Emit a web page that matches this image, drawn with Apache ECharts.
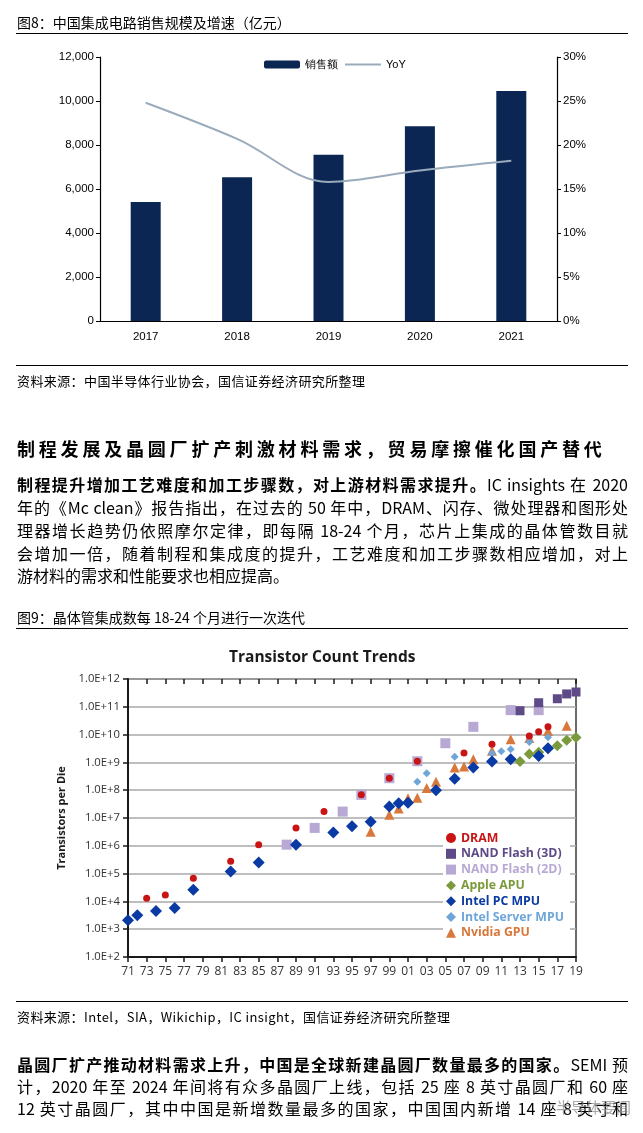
<!DOCTYPE html>
<html><head><meta charset="utf-8">
<script src="https://cdn.jsdelivr.net/npm/echarts@6/dist/echarts.min.js"></script>
<style>
html,body{margin:0;padding:0;background:#fff;}
body{width:643px;height:1133px;position:relative;overflow:hidden;font-family:"Noto Sans CJK SC",sans-serif;color:#000;}
#chart{position:absolute;left:0;top:0;width:643px;height:1133px;}
.t{position:absolute;white-space:nowrap;z-index:2;}
.rule{position:absolute;left:16px;width:612px;height:0;border-top:1.6px solid #000;z-index:2;}
.cap{font-size:14px;left:17px;line-height:18px;}
.src{font-size:13px;left:17px;line-height:17px;letter-spacing:0.4px;}
.h{font-size:18px;font-weight:bold;left:17px;letter-spacing:3.8px;line-height:24px;}
.p{position:absolute;left:17px;width:611px;font-size:16px;text-align:justify;text-align-last:justify;white-space:normal;height:23px;line-height:23px;z-index:2;overflow:visible;}
.p.last{text-align-last:left;}
.wm{position:absolute;left:556px;top:1098px;font-size:15px;color:rgba(140,140,140,0.75);z-index:3;line-height:18px;}
</style></head>
<body>
<div id="chart"></div>

<div class="t cap" style="top:13px;">图8：中国集成电路销售规模及增速（亿元）</div>
<div class="rule" style="top:33px;"></div>
<div class="rule" style="top:365px;"></div>
<div class="t src" style="top:372px;">资料来源：中国半导体行业协会，国信证券经济研究所整理</div>

<div class="t h" style="top:436px;">制程发展及晶圆厂扩产刺激材料需求，贸易摩擦催化国产替代</div>
<div class="p" style="top:473px;"><b>制程提升增加工艺难度和加工步骤数，对上游材料需求提升。</b>IC insights 在 2020</div>
<div class="p" style="top:496px;">年的《Mc clean》报告指出，在过去的 50 年中，DRAM、闪存、微处理器和图形处</div>
<div class="p" style="top:519px;">理器增长趋势仍依照摩尔定律，即每隔 18-24 个月，芯片上集成的晶体管数目就</div>
<div class="p" style="top:542px;">会增加一倍，随着制程和集成度的提升，工艺难度和加工步骤数相应增加，对上</div>
<div class="p last" style="top:564px;">游材料的需求和性能要求也相应提高。</div>

<div class="t cap" style="top:608px;">图9：晶体管集成数每 18-24 个月进行一次迭代</div>
<div class="rule" style="top:628px;"></div>

<div class="rule" style="top:1001px;"></div>
<div class="t src" style="top:1008px;">资料来源：Intel，SIA，Wikichip，IC insight，国信证券经济研究所整理</div>

<div class="p" style="top:1053px;"><b>晶圆厂扩产推动材料需求上升，中国是全球新建晶圆厂数量最多的国家。</b>SEMI 预</div>
<div class="p" style="top:1075px;">计，2020 年至 2024 年间将有众多晶圆厂上线，包括 25 座 8 英寸晶圆厂和 60 座</div>
<div class="p" style="top:1097px;">12 英寸晶圆厂，其中中国是新增数量最多的国家，中国国内新增 14 座 8 英寸和</div>
<div class="wm">半导体要闻</div>

<script>
// ---- Chart 1: China IC sales ----
const years = ['2017', '2018', '2019', '2020', '2021'];
const sales = [5411, 6532, 7562, 8848, 10458];
const yoy = [24.8, 20.7, 15.8, 17.1, 18.2];

// ---- Chart 2: Transistor count trends (year, transistors per die) ----
const dramYears = [1973, 1975, 1978, 1982, 1985, 1989, 1992, 1996, 1999, 2002, 2007, 2010, 2014, 2015, 2016];
const dramCount = [1.3e4, 1.7e4, 6.8e4, 2.8e5, 1.1e6, 4.4e6, 1.7e7, 6.8e7, 2.7e8, 1.1e9, 2.2e9, 4.5e9, 8.9e9, 1.26e10, 1.9e10];
const nand3dYears = [2013, 2015, 2017, 2018, 2019];
const nand3dCount = [7.2e10, 1.4e11, 1.95e11, 2.9e11, 3.4e11];
const nand2dYears = [1988, 1991, 1994, 1996, 1999, 2002, 2005, 2008, 2012, 2015];
const nand2dCount = [1.1e6, 4.4e6, 1.7e7, 6.8e7, 2.7e8, 1.1e9, 4.9e9, 1.9e10, 7.6e10, 7.6e10];
const appleYears = [2013, 2014, 2015, 2016, 2017, 2018, 2019];
const appleCount = [1.07e9, 2.0e9, 2.3e9, 3.2e9, 4.0e9, 6.3e9, 7.8e9];
const intelPcYears = [1971, 1972, 1974, 1976, 1978, 1982, 1985, 1989, 1993, 1995, 1997, 1999, 2000, 2001, 2004, 2006, 2008, 2010, 2012, 2015, 2016];
const intelPcCount = [2.1e3, 3.2e3, 4.5e3, 5.8e3, 2.6e4, 1.2e5, 2.5e5, 1.1e6, 3.0e6, 5.1e6, 7.4e6, 2.6e7, 3.4e7, 3.5e7, 1.0e8, 2.6e8, 6.5e8, 1.07e9, 1.3e9, 1.7e9, 3.2e9];
const serverYears = [2000, 2002, 2003, 2006, 2010, 2011, 2012, 2014, 2016];
const serverCount = [3.4e7, 2.0e8, 4.1e8, 1.6e9, 2.1e9, 2.5e9, 3.0e9, 5.4e9, 8.0e9];
const nvidiaYears = [1997, 1999, 2000, 2001, 2002, 2003, 2004, 2006, 2007, 2008, 2010, 2012, 2014, 2016, 2018];
const nvidiaCount = [3.2e6, 1.3e7, 2.2e7, 5.1e7, 5.4e7, 1.2e8, 2.0e8, 6.6e8, 7.1e8, 1.3e9, 2.6e9, 6.8e9, 7.6e9, 1.35e10, 2.1e10];
const firstYear = 1971, lastYear = 2019;

const C = {
  dram: '#c81414', nand3d: '#5e4a86', nand2d: '#b7a9d3', apple: '#7a9a3c',
  pc: '#0a3aa3', server: '#6ea6da', nvidia: '#d9783c'
};

function pts(ys, cs) { return ys.map((y, i) => [y - firstYear, cs[i]]); }

const chart = echarts.init(document.getElementById('chart'), null, {renderer: 'canvas'});
const f1 = '"Liberation Sans", Arial, sans-serif';
const f2 = '"Open Sans", sans-serif';

chart.setOption({
  animation: false,
  title: [{
    text: 'Transistor Count Trends', left: 224, top: 645,
    textStyle: {fontFamily: f2, fontWeight: 'bold', fontSize: 15.5, color: '#1a1a1a'}
  }],
  grid: [
    {left: 100, right: 86, top: 57, bottom: 812},
    {left: 128, right: 67, top: 679, bottom: 176, show: true, borderColor: '#3a3a3a', borderWidth: 1.5}
  ],
  legend: [
    {
      left: 259, top: 54, itemWidth: 36, itemHeight: 8, itemGap: 6,
      selectedMode: false,
      data: ['销售额', {name: 'YoY', itemStyle: {opacity: 0}}],
      textStyle: {fontSize: 11, color: '#000', fontFamily: f1}
    },
    {
      orient: 'vertical', left: 443, top: 830, itemWidth: 10, itemHeight: 10, itemGap: 3.8,
      backgroundColor: '#fff', padding: [2, 6, 4, 3], selectedMode: false,
      textStyle: {fontFamily: f2, fontWeight: 'bold', fontSize: 12.3},
      data: [
        {name: 'DRAM', icon: 'circle', textStyle: {color: C.dram}},
        {name: 'NAND Flash (3D)', icon: 'rect', textStyle: {color: C.nand3d}},
        {name: 'NAND Flash (2D)', icon: 'rect', textStyle: {color: C.nand2d}},
        {name: 'Apple APU', icon: 'diamond', textStyle: {color: C.apple}},
        {name: 'Intel PC MPU', icon: 'diamond', textStyle: {color: C.pc}},
        {name: 'Intel Server MPU', icon: 'diamond', textStyle: {color: C.server}},
        {name: 'Nvidia GPU', icon: 'triangle', textStyle: {color: C.nvidia}}
      ]
    }
  ],
  xAxis: [
    {
      type: 'category', gridIndex: 0, data: years,
      axisLine: {lineStyle: {color: '#000', width: 1.2}},
      axisTick: {length: 5, lineStyle: {color: '#000'}},
      axisLabel: {color: '#000', fontSize: 11.5, fontFamily: f1, margin: 10}
    },
    {
      type: 'value', gridIndex: 1, min: 0, max: lastYear - firstYear, interval: 2,
      splitLine: {show: false},
      axisLine: {lineStyle: {color: '#1a1a1a', width: 2}},
      axisTick: {show: true, length: 5, lineStyle: {color: '#1a1a1a', width: 1.5}},
      axisLabel: {color: '#333', fontSize: 12, fontFamily: f2, margin: 9,
        formatter: v => String((firstYear + v) % 100).padStart(2, '0')}
    },
    {
      type: 'value', gridIndex: 1, min: 0, max: lastYear - firstYear, interval: 2,
      splitLine: {show: false}, axisLine: {show: false}, axisLabel: {show: false},
      axisTick: {show: true, inside: true, length: 5, lineStyle: {color: '#1a1a1a', width: 1.5}}
    }
  ],
  yAxis: [
    {
      type: 'value', gridIndex: 0, min: 0, max: 12000, interval: 2000,
      splitLine: {show: false},
      axisLine: {show: true, lineStyle: {color: '#000', width: 1.2}},
      axisTick: {show: true, length: 4, lineStyle: {color: '#000'}},
      axisLabel: {color: '#000', fontSize: 11.5, fontFamily: f1, margin: 6,
        formatter: v => v.toLocaleString('en-US')}
    },
    {
      type: 'value', gridIndex: 0, position: 'right', min: 0, max: 30, interval: 5,
      splitLine: {show: false},
      axisLine: {show: true, lineStyle: {color: '#000', width: 1.2}},
      axisTick: {show: true, length: 4, lineStyle: {color: '#000'}},
      axisLabel: {color: '#000', fontSize: 11.5, fontFamily: f1, margin: 6, formatter: v => v + '%'}
    },
    {
      type: 'log', logBase: 10, gridIndex: 1, min: 1e2, max: 1e12, splitNumber: 10,
      name: 'Transistors per Die', nameLocation: 'middle', nameRotate: 90, nameGap: 36,
      nameTextStyle: {fontFamily: f2, fontWeight: 'bold', fontSize: 11, color: '#1a1a1a'},
      axisLine: {show: true, lineStyle: {color: '#1a1a1a', width: 2}},
      axisTick: {show: true, length: 5, lineStyle: {color: '#1a1a1a', width: 1.5}},
      splitLine: {show: true, lineStyle: {color: '#a8a8a8', width: 1.5}},
      axisLabel: {color: '#333', fontSize: 11.3, fontFamily: f2, margin: 8,
        formatter: v => '1.0E+' + Math.round(Math.log10(v))}
    }
  ],
  series: [
    {
      name: '销售额', type: 'bar', xAxisIndex: 0, yAxisIndex: 0, data: sales, barWidth: 30,
      itemStyle: {color: '#0b2653'}
    },
    {
      name: 'YoY', type: 'line', xAxisIndex: 0, yAxisIndex: 1, data: yoy, smooth: 0.35,
      symbol: 'none', lineStyle: {color: '#9aabbb', width: 2}, itemStyle: {color: '#9aabbb'}
    },
    {name: 'NAND Flash (2D)', type: 'scatter', xAxisIndex: 1, yAxisIndex: 2, symbol: 'rect', symbolSize: 10,
      data: pts(nand2dYears, nand2dCount), itemStyle: {color: C.nand2d, opacity: 1}},
    {name: 'NAND Flash (3D)', type: 'scatter', xAxisIndex: 1, yAxisIndex: 2, symbol: 'rect', symbolSize: 9,
      data: pts(nand3dYears, nand3dCount), itemStyle: {color: C.nand3d, opacity: 1}},
    {name: 'Nvidia GPU', type: 'scatter', xAxisIndex: 1, yAxisIndex: 2, symbol: 'triangle', symbolSize: 10,
      data: pts(nvidiaYears, nvidiaCount), itemStyle: {color: C.nvidia, opacity: 1}},
    {name: 'Intel Server MPU', type: 'scatter', xAxisIndex: 1, yAxisIndex: 2, symbol: 'diamond', symbolSize: 8,
      data: pts(serverYears, serverCount), itemStyle: {color: C.server, opacity: 1}},
    {name: 'Apple APU', type: 'scatter', xAxisIndex: 1, yAxisIndex: 2, symbol: 'diamond', symbolSize: 11,
      data: pts(appleYears, appleCount), itemStyle: {color: C.apple, opacity: 1}},
    {name: 'Intel PC MPU', type: 'scatter', xAxisIndex: 1, yAxisIndex: 2, symbol: 'diamond', symbolSize: 12,
      data: pts(intelPcYears, intelPcCount), itemStyle: {color: C.pc, opacity: 1}},
    {name: 'DRAM', type: 'scatter', xAxisIndex: 1, yAxisIndex: 2, symbol: 'circle', symbolSize: 7,
      data: pts(dramYears, dramCount), itemStyle: {color: C.dram, opacity: 1}}
  ]
});
</script>
</body></html>
